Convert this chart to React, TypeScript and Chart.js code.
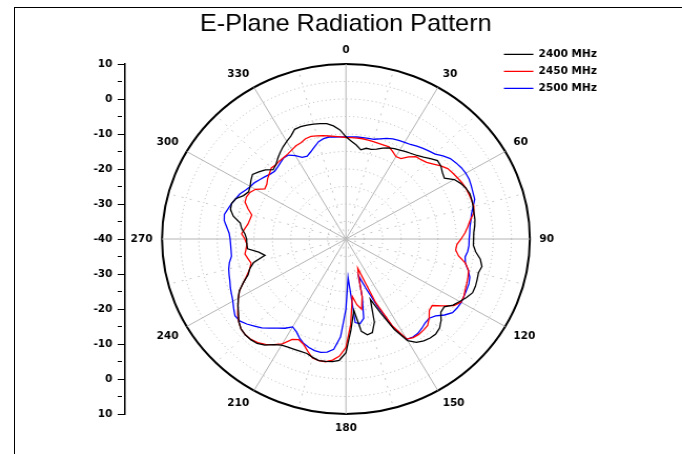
import { useEffect, useRef } from 'react';
import { Chart, registerables } from 'chart.js';

Chart.register(...registerables);

// ---- data -------------------------------------------------------------
const angleStepDeg = 3;
const angleCategories: number[] = Array.from({ length: 360 / angleStepDeg }, (_, i) => i * angleStepDeg);

const seriesNames = ['2400 MHz', '2450 MHz', '2500 MHz'];
const seriesColors = ['#000000', '#ff0000', '#0000ff'];

// gain in dB, one value every 3 degrees starting at 0 (clockwise from top)
const gain2400 = [
  -10.8, -12, -13, -14.2, -13.5, -13.5, -13, -12.2, -11.5, -11,
  -10.7, -10.2, -9.8, -9.3, -8.5, -7.5, -6.5, -6.8, -7.6, -8.1,
  -6, -5, -4.3, -3.9, -4, -4.2, -4.4, -4.5, -4.8, -5.2,
  -5.3, -5.3, -4.5, -3, -2.2, -2.7, -2.5, -2.3, -2.3, -3.2,
  -4.3, -5.3, -7, -6.8, -5.2, -4, -3.5, -3.6, -4, -4.8,
  -6.5, -11, -17, -21.5, -15, -12.3, -12, -13.3, -19.5, -14,
  -7.5, -5.3, -4.8, -4.6, -4.5, -5, -5.6, -5.6, -5.5, -5.3,
  -5, -4, -2.5, -1.6, -1.3, -1.3, -1.6, -2.5, -3.9, -5,
  -6.2, -7.5, -9.5, -11.5, -12.5, -14, -17.5, -16, -13.1, -13,
  -13, -12.5, -11.5, -10.9, -8.7, -7.5, -7.3, -7.9, -9.5, -10.3,
  -9.9, -9.2, -8.6, -9.5, -10.5, -12, -11.5, -10.5, -9.5, -8.6,
  -7.8, -7, -5.7, -5.6, -5.8, -6, -6.3, -6.6, -7.5, -8.8,
];

const gain2450 = [
  -11, -11, -11, -11, -11.1, -11.2, -11.3, -11.3, -11.2, -12,
  -12.8, -12.6, -11, -9.7, -9.5, -9, -8, -6.8, -5.8, -5.4,
  -5, -4.6, -4.3, -4.2, -4.1, -4, -4.5, -5.8, -6.7, -7.6,
  -8.7, -9.8, -10, -9, -6.8, -5.5, -5.1, -4.8, -4.5, -4,
  -3.9, -5, -7.5, -9.8, -9.5, -8, -6.8, -6.5, -6.3, -6.4,
  -7, -12, -20, -31, -29, -23, -19.5, -21, -23.5, -15.5,
  -9, -6.5, -5.2, -4.5, -4.5, -4.8, -6.3, -7.8, -8.5, -7.8,
  -5.4, -4, -2.8, -1.9, -1.4, -1.3, -1.6, -2.5, -3.6, -5,
  -6.2, -7.5, -9.5, -11.2, -12.5, -13.3, -12.8, -12.2, -12.7, -13,
  -12.5, -11.6, -12.3, -13, -13.3, -13.5, -12, -10.6, -10.4, -10.7,
  -11.6, -13.7, -13.4, -12.6, -12, -11.3, -11.5, -11.3, -11.2, -11,
  -10.6, -10.1, -9.9, -9.3, -9.2, -9.5, -9.8, -10.2, -10.5, -10.8,
];

const gain2500 = [
  -10.8, -10.8, -10.7, -10.7, -10.6, -10.5, -9.9, -9.2, -8.7, -8.4,
  -8.1, -7.8, -7.2, -6.7, -6.2, -5.7, -4.5, -3.5, -3, -2.6,
  -2.4, -2.4, -2.7, -3, -3.2, -4.2, -5.1, -5.6, -6.1, -6.3,
  -6.5, -6.5, -6.7, -7.2, -6.8, -5.6, -4.6, -4.2, -4.1, -4,
  -3.8, -3.9, -4.2, -5.5, -7.2, -8, -7.8, -7.2, -6.7, -6.6,
  -6.9, -11.5, -19, -25, -29, -23, -16.8, -15.5, -16, -29,
  -20, -12, -8.3, -7.3, -6.9, -7, -7.4, -8, -9, -10.3,
  -11, -9.6, -8.5, -7.2, -5.8, -4.8, -3.7, -2.8, -2.7, -3.6,
  -4.5, -5.1, -5.6, -6.2, -6.6, -7, -7.6, -8.5, -8.6, -8.6,
  -8.5, -8.2, -7.4, -6.5, -6.2, -6.8, -7.3, -7.9, -8.4, -9.3,
  -10, -10.4, -11.1, -11.7, -12.3, -12.6, -12.3, -11.8, -11.3, -11.4,
  -12.5, -13.8, -14.1, -13.3, -12.3, -11.2, -10.7, -10.5, -10.7, -10.8,
];

const angleTickLabels = [0, 30, 60, 90, 120, 150, 180, 210, 240, 270, 300, 330];
const leftAxisLabels = ['10', '0', '-10', '-20', '-30', '-40', '-30', '-20', '-10', '0', '10'];

// ---- layout (canvas is drawn 649 wide, then stretched to 682) ----------
const CW = 649;
const CH = 454;
const STRETCH = 682 / CW;
const PAD_L = 80;
const PAD_R = 71;
const Y_AXIS_W = 39;
const CIRCLE_INSET = 35.2;
const LABEL_GAP = 9;
const tickFont = { family: 'DejaVu Sans', size: 10, weight: 'bold' as const };

const angleLabelPlugin = {
  id: 'angleLabels',
  afterDraw(chart: any) {
    const s = chart.scales.r;
    const ctx = chart.ctx as CanvasRenderingContext2D;
    ctx.save();
    ctx.font = 'bold 10px "DejaVu Sans"';
    ctx.fillStyle = '#000';
    angleTickLabels.forEach((deg) => {
      const idx = angleCategories.indexOf(deg);
      const p = s.getPointPosition(idx, s.drawingArea + LABEL_GAP);
      ctx.textAlign = deg === 0 || deg === 180 ? 'center' : deg < 180 ? 'left' : 'right';
      ctx.textBaseline = deg === 90 || deg === 270 ? 'middle' : deg < 90 || deg > 270 ? 'bottom' : 'top';
      ctx.fillText(String(deg), p.x, p.y);
    });
    ctx.restore();
  },
};

export default function App() {
  const ref = useRef<HTMLCanvasElement>(null);

  useEffect(() => {
    const series = [gain2400, gain2450, gain2500];
    const chart = new Chart(ref.current as HTMLCanvasElement, {
      type: 'radar',
      data: {
        labels: angleCategories.map(String),
        datasets: series.map((d, i) => ({
          label: seriesNames[i],
          data: d,
          borderColor: seriesColors[i],
          backgroundColor: seriesColors[i],
          borderWidth: 1.3,
          pointRadius: 0,
          fill: false,
          clip: false,
        })),
      },
      options: {
        responsive: false,
        animation: false,
        events: [],
        layout: { padding: { left: PAD_L, right: PAD_R, top: 0, bottom: 40 } },
        plugins: {
          title: {
            display: true,
            text: 'E-Plane Radiation Pattern',
            color: '#000',
            font: { family: 'Liberation Sans', size: 24, weight: 'normal' },
            padding: { top: 9.6, bottom: 25.6 },
            fullSize: true,
          },
          legend: {
            display: true,
            position: 'right',
            fullSize: true,
            align: 'start',
            title: { display: true, text: ' ', padding: { top: 28, bottom: 0 }, font: { size: 12 } },
            labels: {
              usePointStyle: true,
              pointStyle: 'line',
              pointStyleWidth: 28,
              color: '#000',
              font: tickFont,
              padding: 7,
            },
          },
          tooltip: { enabled: false },
        },
        scales: {
          r: {
            min: -40,
            max: 10,
            startAngle: 0,
            afterFit: (s: any) => {
              s.xCenter = s.left + CIRCLE_INSET + s.drawingArea;
            },
            ticks: { display: false, stepSize: 5 },
            pointLabels: { display: false },
            grid: {
              circular: true,
              color: (c: any) => (c.tick && c.tick.value === 10 ? '#000' : '#b4b4b4'),
              lineWidth: (c: any) => (c.tick && c.tick.value === 10 ? 2 : 1),
            },
            border: {
              dash: (c: any) => (c.tick && c.tick.value === 10 ? [] : [1, 3]),
            },
            angleLines: {
              display: true,
              color: (c: any) => (c.index % 10 === 0 ? '#b4b4b4' : '#c8c8c8'),
              lineWidth: (c: any) => (c.index % 5 === 0 ? 1 : 0),
              borderDash: (c: any) => (c.index % 10 === 0 ? [] : [2, 6]),
            },
          } as any,
          y: {
            type: 'linear',
            position: 'left',
            min: -50,
            max: 50,
            afterFit: (s: any) => {
              s.width = Y_AXIS_W;
            },
            ticks: {
              stepSize: 5,
              autoSkip: false,
              color: '#000',
              font: tickFont,
              padding: 5,
              callback: (_v: any, i: number) => (i % 2 === 0 ? leftAxisLabels[i / 2] : ''),
            },
            grid: {
              drawOnChartArea: false,
              drawTicks: true,
              tickLength: 7,
              tickColor: '#000',
              tickWidth: 1,
              tickBorderDash: (c: any) => (c.index % 2 === 0 ? [] : [4, 40]),
            },
            border: { display: true, color: '#000', width: 1.5 },
          } as any,
        },
      },
      plugins: [angleLabelPlugin],
    } as any);
    return () => chart.destroy();
  }, []);

  return (
    <div style={{ position: 'fixed', left: 0, top: 0, width: 682, height: 454, overflow: 'hidden', background: '#fff' }}>
      <div
        style={{
          position: 'absolute',
          left: 14,
          top: 7,
          width: 668,
          height: 447,
          borderTop: '1px solid #000',
          borderLeft: '1px solid #000',
          boxSizing: 'border-box',
        }}
      />
      <div
        style={{
          position: 'absolute',
          left: 0,
          top: 0,
          width: CW,
          height: CH,
          transform: `scaleX(${STRETCH})`,
          transformOrigin: '0 0',
        }}
      >
        <canvas ref={ref} width={CW} height={CH} style={{ display: 'block' }} />
      </div>
    </div>
  );
}
